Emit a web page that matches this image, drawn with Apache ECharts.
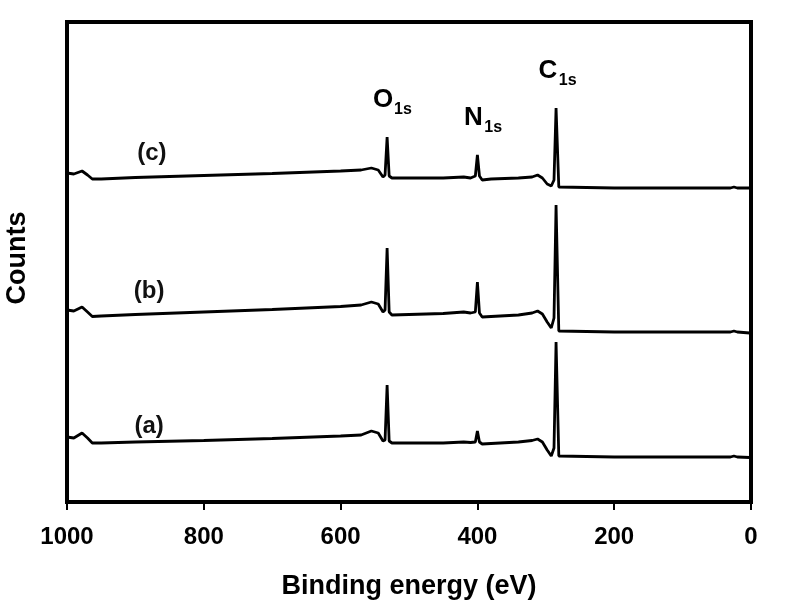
<!DOCTYPE html>
<html>
<head>
<meta charset="utf-8">
<script src="https://cdn.jsdelivr.net/npm/echarts@6/dist/echarts.min.js"></script>
<style>html,body{margin:0;padding:0;background:#fff;}#c{width:800px;height:609px;}</style>
</head>
<body>
<div id="c"></div>
<script>
// Binding energy (eV) sample points
const energy = [1000, 990, 978, 970, 963, 950, 900, 800, 700, 600,
  570, 555, 545, 538, 535, 532, 529, 525, 500, 450,
  420, 410, 403, 400, 397, 393, 380, 340, 320, 312,
  305, 298, 292, 288, 285, 281, 279, 200, 100, 30,
  25, 20, 2];
// Counts (arbitrary units, offset spectra)
const countsA = [65, 64, 69, 64, 59, 59, 60, 61.5, 63.5, 66,
  67, 71, 69, 61, 62, 117, 61, 59, 59, 59,
  60, 59.5, 60, 71, 60, 58, 58.5, 60, 61.5, 63,
  60, 52, 46, 54, 160, 46, 45, 45, 45, 45,
  46, 45, 44.5];
const countsB = [192, 191, 195, 190, 185.5, 186, 187.5, 190, 192.5, 195.5,
  197, 200, 198, 190, 192, 254, 190, 187, 187.5, 188.5,
  190, 189, 190, 220, 189, 185, 185.5, 187, 189, 191,
  188, 180, 174, 184, 297, 171, 170, 170, 170, 170,
  171, 170, 169];
const countsC = [329, 328, 331, 327, 323, 323, 324.5, 326.5, 328.5, 331,
  332, 334, 332, 325, 327, 365, 326, 324, 324, 324,
  325, 324, 326, 347, 326, 322, 323, 324, 325, 327,
  324, 318, 316, 322, 394, 315, 314, 314, 314, 314,
  315, 314, 314];
const xTicks = [0, 200, 400, 600, 800, 1000];

// Annotations (data coordinates)
const curveLabels = ['(a)', '(b)', '(c)'];
const curveLabelE = [880, 880, 876];
const curveLabelY = [76, 211, 349];
const peakLetters = ['O', 'N', 'C'];
const peakLabelE = [538, 406, 297];
const peakLabelY = [402, 384, 431];
const peakSub = '1s';

const FONT = '"Liberation Sans", Arial, sans-serif';
const chart = echarts.init(document.getElementById('c'), null, {renderer: 'canvas'});

function mk(vals) { return energy.map((e, i) => [e, vals[i]]); }

chart.setOption({
  animation: false,
  backgroundColor: '#fff',
  grid: {left: 67, right: 49, top: 22, bottom: 107, show: true, borderColor: '#000', borderWidth: 4, backgroundColor: 'transparent'},
  xAxis: {
    type: 'value', min: 0, max: 1000, interval: 200, inverse: true,
    axisLine: {show: true, lineStyle: {color: '#000', width: 4}},
    axisTick: {show: true, inside: false, length: 8, lineStyle: {color: '#000', width: 2}},
    axisLabel: {color: '#000', fontSize: 24, fontWeight: 'bold', fontFamily: FONT, margin: 23,
      formatter: v => xTicks.includes(v) ? String(v) : ''},
    splitLine: {show: false}
  },
  yAxis: {
    type: 'value', min: 0, max: 480,
    axisLine: {show: false}, axisTick: {show: false}, axisLabel: {show: false}, splitLine: {show: false}
  },
  series: [countsA, countsB, countsC].map(v => ({
    type: 'line', data: mk(v), symbol: 'none', smooth: false,
    lineStyle: {color: '#000', width: 2.8}, z: 3
  }))
});

const g = [];
curveLabels.forEach((t, i) => {
  const p = chart.convertToPixel({gridIndex: 0}, [curveLabelE[i], curveLabelY[i]]);
  g.push({type: 'text', x: p[0], y: p[1], style: {text: t, fill: '#111', font: 'bold 24px ' + FONT, textAlign: 'center', textVerticalAlign: 'middle'}});
});
peakLetters.forEach((t, i) => {
  const p = chart.convertToPixel({gridIndex: 0}, [peakLabelE[i], peakLabelY[i]]);
  g.push({type: 'text', x: p[0], y: p[1], style: {text: t, fill: '#000', font: 'bold 26px ' + FONT, textAlign: 'center', textVerticalAlign: 'middle'}});
  g.push({type: 'text', x: p[0] + 11, y: p[1] + 9.5, style: {text: peakSub, fill: '#000', font: 'bold 16px ' + FONT, textAlign: 'left', textVerticalAlign: 'middle'}});
});
g.push({type: 'text', x: 409, y: 587, style: {text: 'Binding energy (eV)', fill: '#000', font: 'bold 27px ' + FONT, textAlign: 'center', textVerticalAlign: 'middle'}});
g.push({type: 'text', x: 18, y: 258, rotation: Math.PI / 2, style: {text: 'Counts', fill: '#000', font: 'bold 27px ' + FONT, textAlign: 'center', textVerticalAlign: 'middle'}});
chart.setOption({graphic: g});
</script>
</body>
</html>
